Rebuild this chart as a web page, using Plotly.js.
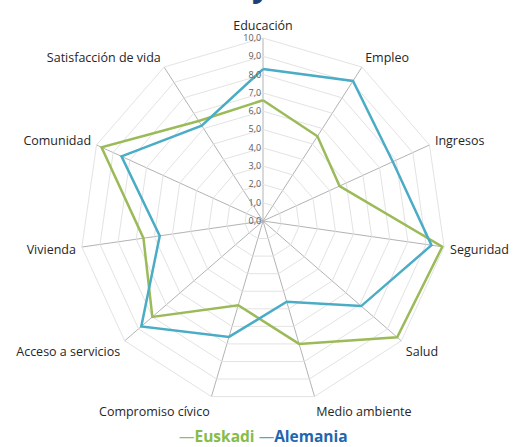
<!DOCTYPE html>
<html>
<head>
<meta charset="utf-8">
<script src="https://cdn.plot.ly/plotly-3.0.1.min.js"></script>
<style>html,body{margin:0;padding:0;background:#fff;}#chart{width:513px;height:447px;}</style>
</head>
<body>
<div id="chart"></div>
<script>
const categories = ["Educación","Empleo","Ingresos","Seguridad","Salud","Medio ambiente","Compromiso cívico","Acceso a servicios","Vivienda","Comunidad","Satisfacción de vida"];
const euskadi = [6.6, 5.5, 4.6, 9.9, 9.7, 7.0, 4.8, 8.0, 6.6, 9.7, 6.5];
const alemania = [8.3, 9.1, 7.8, 9.3, 7.1, 4.6, 6.6, 8.8, 5.7, 8.5, 6.2];
const seriesNames = ["Euskadi","Alemania"];
const tickVals = [0,1,2,3,4,5,6,7,8,9,10];
const tickText = ["0,0","1,0","2,0","3,0","4,0","5,0","6,0","7,0","8,0","9,0","10,0"];

const lineColors = ["#9bbb59","#4bacc6"];
const textColors = ["#86bc48","#2266ae"];

function closed(a){ return a.concat([a[0]]); }

const traces = [euskadi, alemania].map((vals,i)=>({
  type:"scatterpolar",
  r: closed(vals),
  theta: closed(categories),
  mode:"lines",
  name: seriesNames[i],
  line:{color:lineColors[i], width:2.5},
  showlegend:false,
  hoverinfo:"skip"
}));

const W=513,H=447, cx=263, cy=221, R=183;
const layout = {
  width:W, height:H,
  margin:{l:0,r:0,t:0,b:0},
  paper_bgcolor:"#fff",
  font:{family:"Open Sans, Noto Sans, sans-serif", color:"#404040"},
  polar:{
    domain:{x:[(cx-R)/W,(cx+R)/W], y:[(H-cy-R)/H,(H-cy+R)/H]},
    gridshape:"linear",
    bgcolor:"rgba(0,0,0,0)",
    radialaxis:{
      range:[0,10], angle:90, tickangle:90,
      tickvals:tickVals, ticktext:tickText,
      showline:false, ticks:"", side:"counterclockwise",
      gridcolor:"#e3e3e3", gridwidth:1,
      tickfont:{size:9, color:"#595959"}
    },
    angularaxis:{
      direction:"clockwise", rotation:90,
      showline:true, linecolor:"#e3e3e3", linewidth:1,
      gridcolor:"#b3b3b3", gridwidth:1,
      ticks:"outside", ticklen:3, tickcolor:"rgba(0,0,0,0)",
      tickfont:{size:12.5, color:"#262626"}
    }
  },
  annotations:[
    {xref:"paper", yref:"paper", x:(cx)/W, y:(H-436)/H, xanchor:"center", yanchor:"middle",
     showarrow:false,
     text: seriesNames.map((n,i)=>`<span style="color:${lineColors[i]}">—</span><span style="color:${textColors[i]}"><b>${n}</b></span>`).join(" "),
     font:{size:15.5, family:"Open Sans, sans-serif"}},
    {xref:"paper", yref:"paper", x:261/W, y:(H-7)/H, xanchor:"center", yanchor:"bottom",
     showarrow:false, text:"<b>y</b>", font:{size:32, color:"#1f3f7a", family:"Open Sans, sans-serif"}}
  ]
};

Plotly.newPlot("chart", traces, layout, {displayModeBar:false, staticPlot:true});
</script>
</body>
</html>
